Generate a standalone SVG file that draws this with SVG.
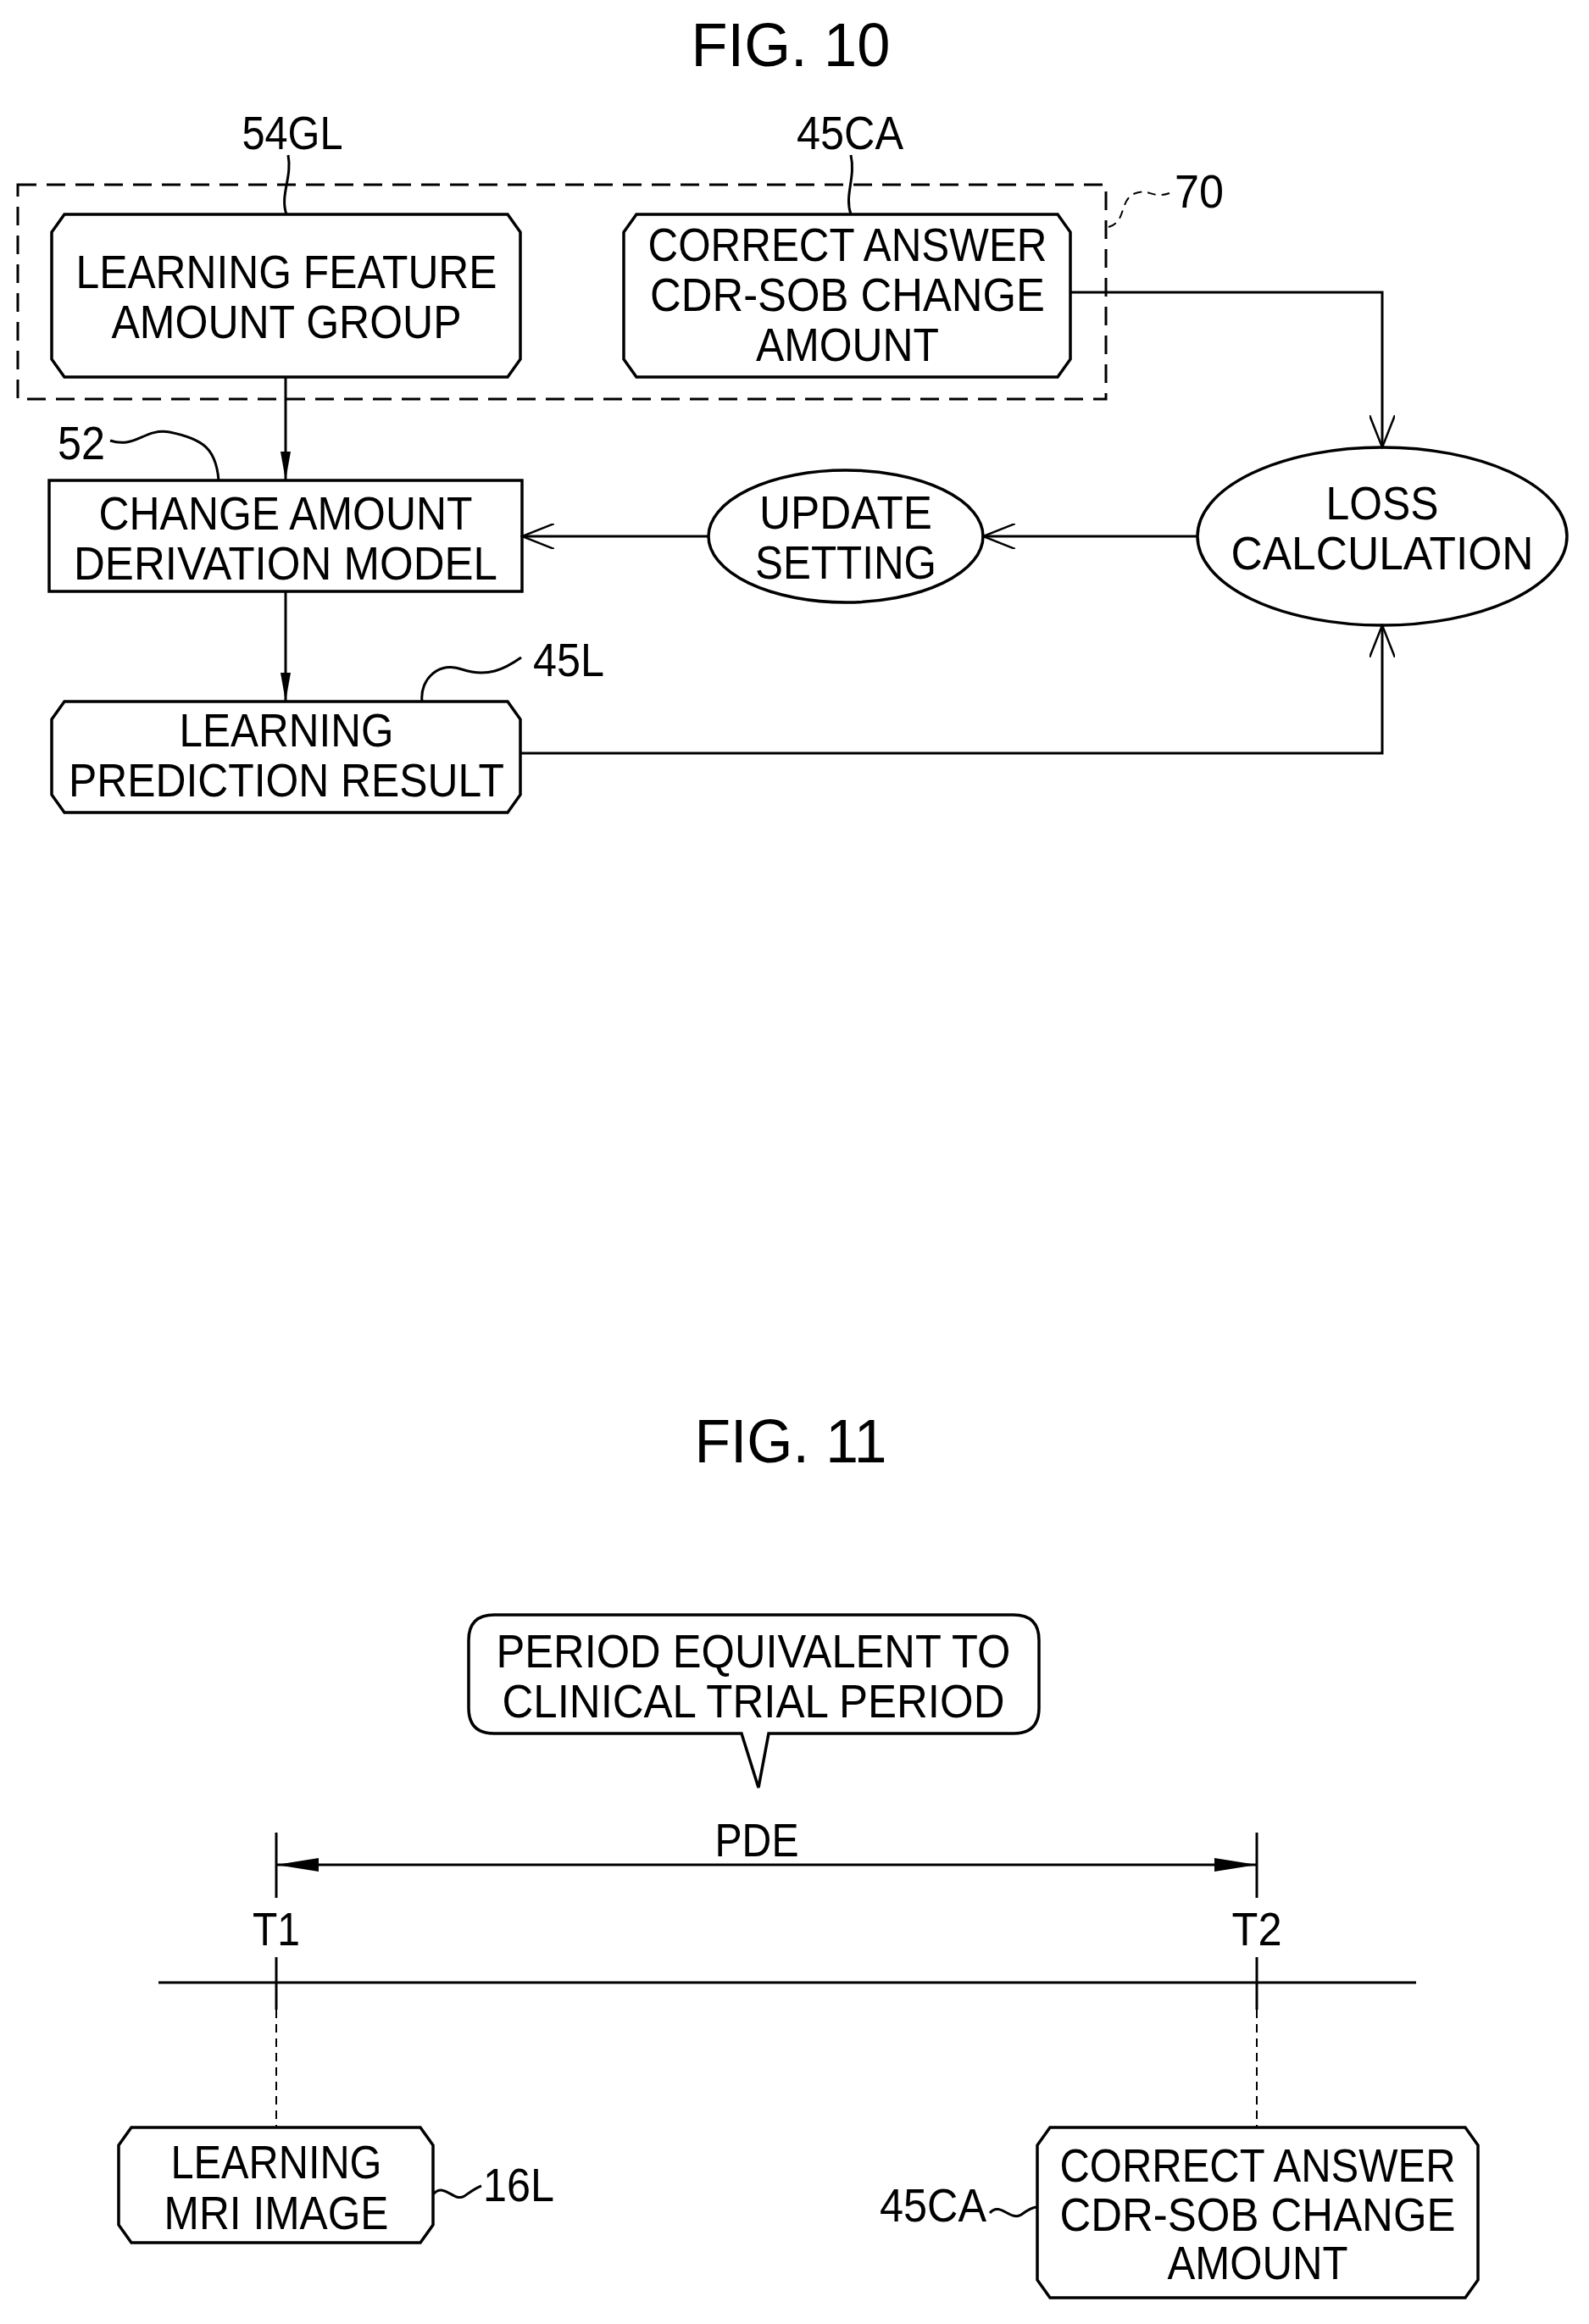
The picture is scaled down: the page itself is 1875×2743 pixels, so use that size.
<svg xmlns="http://www.w3.org/2000/svg" width="1875" height="2743" viewBox="0 0 1875 2743">
<style>
text{font-family:"Liberation Sans",Arial,sans-serif;font-size:55px;fill:#000;text-anchor:middle}
.t{font-size:72px}
.s{fill:none;stroke:#000;stroke-width:3}
.n{fill:#fff;stroke:#000;stroke-width:3.5}
.d{fill:none;stroke:#000;stroke-width:3;stroke-dasharray:22 12}
.ld{fill:none;stroke:#000;stroke-width:2;stroke-dasharray:10 7}
</style>
<defs>
<marker id="fa" viewBox="0 0 14 34" refX="7" refY="34" markerWidth="14" markerHeight="34" markerUnits="userSpaceOnUse" orient="0"><path d="M7 34 L1 0 L13 0 Z" fill="#000"/></marker>
<marker id="va" viewBox="0 0 40 30" refX="38" refY="15" markerWidth="40" markerHeight="30" markerUnits="userSpaceOnUse" orient="auto"><path d="M0 0 L38 15 L0 30" fill="none" stroke="#000" stroke-width="2.5"/></marker>
<marker id="da" viewBox="0 0 50 20" refX="50" refY="10" markerWidth="50" markerHeight="20" markerUnits="userSpaceOnUse" orient="auto-start-reverse"><path d="M0 2 L50 10 L0 18 Z" fill="#000"/></marker>
</defs>

<text class="t" x="933" y="78" textLength="235" lengthAdjust="spacingAndGlyphs">FIG. 10</text>

<g id="group70">
<rect class="d" x="21" y="218" width="1284" height="253"/>
<path class="ld" d="M1308 268 C1330 262 1320 235 1340 228 C1355 222 1360 235 1380 228"/>
<text x="1415" y="245" textLength="58" lengthAdjust="spacingAndGlyphs">70</text>
</g>

<g id="n54GL">
<path class="n" d="M76 253 L599 253 L614 274 L614 424 L599 445 L76 445 L61 424 L61 274 Z"/>
<text x="338" y="340" textLength="497" lengthAdjust="spacingAndGlyphs">LEARNING FEATURE</text>
<text x="338" y="399" textLength="413" lengthAdjust="spacingAndGlyphs">AMOUNT GROUP</text>
<path class="s" stroke-width="2" d="M338 253 C330 230 345 210 340 183"/>
<text x="345" y="176" textLength="119" lengthAdjust="spacingAndGlyphs">54GL</text>
</g>

<g id="n45CA">
<path class="n" d="M751 253 L1248 253 L1263 274 L1263 424 L1248 445 L751 445 L736 424 L736 274 Z"/>
<text x="1000" y="308" textLength="471" lengthAdjust="spacingAndGlyphs">CORRECT ANSWER</text>
<text x="1000" y="367" textLength="466" lengthAdjust="spacingAndGlyphs">CDR-SOB CHANGE</text>
<text x="1000" y="426" textLength="216" lengthAdjust="spacingAndGlyphs">AMOUNT</text>
<path class="s" stroke-width="2" d="M1004 253 C996 230 1010 210 1004 183"/>
<text x="1003" y="176" textLength="126" lengthAdjust="spacingAndGlyphs">45CA</text>
</g>

<g id="n52">
<rect class="n" x="58" y="567" width="558" height="131"/>
<text x="337" y="625" textLength="441" lengthAdjust="spacingAndGlyphs">CHANGE AMOUNT</text>
<text x="337" y="684" textLength="500" lengthAdjust="spacingAndGlyphs">DERIVATION MODEL</text>
<path class="s" stroke-width="2" d="M130 520 C160 530 170 505 200 510 C240 518 255 530 258 567"/>
<text x="96" y="542" textLength="56" lengthAdjust="spacingAndGlyphs">52</text>
</g>

<g id="nUpdate">
<ellipse class="n" cx="998" cy="633" rx="162" ry="78"/>
<text x="998" y="624" textLength="204" lengthAdjust="spacingAndGlyphs">UPDATE</text>
<text x="998" y="683" textLength="214" lengthAdjust="spacingAndGlyphs">SETTING</text>
</g>

<g id="nLoss">
<ellipse class="n" cx="1631" cy="633" rx="218" ry="105"/>
<text x="1631" y="613" textLength="133" lengthAdjust="spacingAndGlyphs">LOSS</text>
<text x="1631" y="672" textLength="357" lengthAdjust="spacingAndGlyphs">CALCULATION</text>
</g>

<g id="n45L">
<path class="n" d="M76 828 L599 828 L614 849 L614 938 L599 959 L76 959 L61 938 L61 849 Z"/>
<text x="338" y="881" textLength="253" lengthAdjust="spacingAndGlyphs">LEARNING</text>
<text x="338" y="940" textLength="514" lengthAdjust="spacingAndGlyphs">PREDICTION RESULT</text>
<path class="s" stroke-width="2" d="M498 828 C495 800 520 780 545 790 C575 800 595 790 615 776"/>
<text x="671" y="798" textLength="84" lengthAdjust="spacingAndGlyphs">45L</text>
</g>

<g id="connectors">
<line class="s" x1="337" y1="445" x2="337" y2="567" marker-end="url(#fa)"/>
<line class="s" x1="337" y1="698" x2="337" y2="828" marker-end="url(#fa)"/>
<line class="s" x1="1413" y1="633" x2="1160" y2="633" marker-end="url(#va)"/>
<line class="s" x1="836" y1="633" x2="616" y2="633" marker-end="url(#va)"/>
<polyline class="s" points="1263,345 1631,345 1631,528" marker-end="url(#va)"/>
<polyline class="s" points="614,889 1631,889 1631,738" marker-end="url(#va)"/>
</g>

<text class="t" x="933" y="1726" textLength="227" lengthAdjust="spacingAndGlyphs">FIG. 11</text>

<g id="callout">
<path class="n" d="M583 1906 L1196 1906 Q1226 1906 1226 1936 L1226 2016 Q1226 2046 1196 2046 L907 2046 L895 2110 L875 2046 L583 2046 Q553 2046 553 2016 L553 1936 Q553 1906 583 1906 Z"/>
<text x="889" y="1968" textLength="607" lengthAdjust="spacingAndGlyphs">PERIOD EQUIVALENT TO</text>
<text x="889" y="2027" textLength="593" lengthAdjust="spacingAndGlyphs">CLINICAL TRIAL PERIOD</text>
</g>

<g id="timeline">
<text x="893" y="2191" textLength="99" lengthAdjust="spacingAndGlyphs">PDE</text>
<line class="s" x1="326" y1="2201" x2="1483" y2="2201" marker-start="url(#da)" marker-end="url(#da)"/>
<line class="s" stroke-width="2" x1="326" y1="2163" x2="326" y2="2240"/>
<line class="s" stroke-width="2" x1="1483" y1="2163" x2="1483" y2="2240"/>
<text x="326" y="2296" textLength="56" lengthAdjust="spacingAndGlyphs">T1</text>
<text x="1483" y="2296" textLength="59" lengthAdjust="spacingAndGlyphs">T2</text>
<line class="s" stroke-width="2" x1="326" y1="2310" x2="326" y2="2372"/>
<line class="s" stroke-width="2" x1="1483" y1="2310" x2="1483" y2="2372"/>
<line class="s" stroke-width="4" x1="187" y1="2340" x2="1671" y2="2340"/>
<line class="ld" x1="326" y1="2372" x2="326" y2="2511"/>
<line class="ld" x1="1483" y1="2372" x2="1483" y2="2511"/>
</g>

<g id="n16L">
<path class="n" d="M155 2511 L496 2511 L511 2532 L511 2626 L496 2647 L155 2647 L140 2626 L140 2532 Z"/>
<text x="326" y="2571" textLength="249" lengthAdjust="spacingAndGlyphs">LEARNING</text>
<text x="326" y="2631" textLength="265" lengthAdjust="spacingAndGlyphs">MRI IMAGE</text>
<path class="s" stroke-width="2" d="M511 2590 C525 2575 535 2600 548 2592 C558 2585 562 2582 568 2580"/>
<text x="612" y="2598" textLength="84" lengthAdjust="spacingAndGlyphs">16L</text>
</g>

<g id="n45CA2">
<path class="n" d="M1239 2511 L1729 2511 L1744 2532 L1744 2691 L1729 2712 L1239 2712 L1224 2691 L1224 2532 Z"/>
<text x="1484" y="2575" textLength="467" lengthAdjust="spacingAndGlyphs">CORRECT ANSWER</text>
<text x="1484" y="2633" textLength="467" lengthAdjust="spacingAndGlyphs">CDR-SOB CHANGE</text>
<text x="1484" y="2690" textLength="213" lengthAdjust="spacingAndGlyphs">AMOUNT</text>
<path class="s" stroke-width="2" d="M1168 2612 C1180 2598 1192 2622 1205 2614 C1213 2608 1218 2605 1224 2605"/>
<text x="1101" y="2622" textLength="126" lengthAdjust="spacingAndGlyphs">45CA</text>
</g>
</svg>
